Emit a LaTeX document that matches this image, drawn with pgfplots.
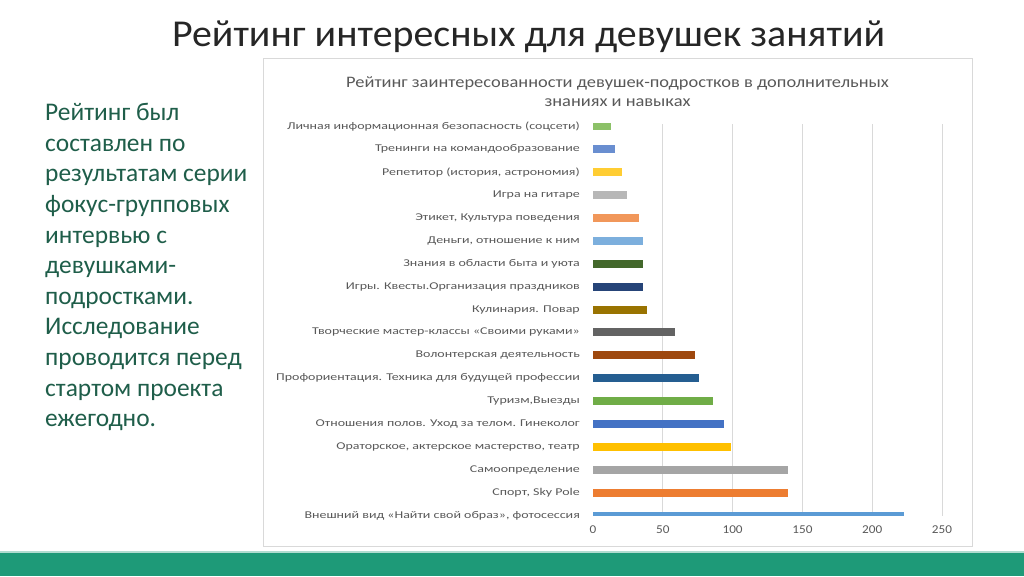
\documentclass[border=0pt]{standalone}
\usepackage{pgfplots}
\pgfplotsset{compat=1.18}
\usepackage{fontspec}
\setmainfont{Carlito}
\newfontfamily\slidetitlefont[FakeStretch=1.05]{Carlito}
\newfontfamily\chartfont[FakeStretch=1.34]{Carlito}
\newfontfamily\ctitlefont[FakeStretch=1.15]{Carlito}
\newfontfamily\tickfont[FakeStretch=1.1]{Carlito}

\definecolor{labgray}{HTML}{595959}
\definecolor{gridgray}{HTML}{D9D9D9}
\definecolor{slidegreen}{HTML}{1E9A78}
\definecolor{textgreen}{HTML}{1F5E4A}
\definecolor{c1}{HTML}{5B9BD5}
\definecolor{c2}{HTML}{ED7D31}
\definecolor{c3}{HTML}{A5A5A5}
\definecolor{c4}{HTML}{FFC000}
\definecolor{c5}{HTML}{4472C4}
\definecolor{c6}{HTML}{70AD47}
\definecolor{c7}{HTML}{255E91}
\definecolor{c8}{HTML}{9E480E}
\definecolor{c9}{HTML}{636363}
\definecolor{c10}{HTML}{997300}
\definecolor{c11}{HTML}{264478}
\definecolor{c12}{HTML}{43682B}
\definecolor{c13}{HTML}{7CAFDD}
\definecolor{c14}{HTML}{F1975A}
\definecolor{c15}{HTML}{B7B7B7}
\definecolor{c16}{HTML}{FFCD33}
\definecolor{c17}{HTML}{698ED0}
\definecolor{c18}{HTML}{8CC168}

\begin{document}
\begin{tikzpicture}
% slide background
\fill[white] (0pt,0pt) rectangle (1024pt,576pt);
\useasboundingbox (0pt,0pt) rectangle (1024pt,576pt);
\fill[slidegreen] (0pt,0pt) rectangle (1024pt,23pt);
\fill[slidegreen!35] (0pt,23pt) rectangle (1024pt,25pt);

% slide title
\node[anchor=base, font=\slidetitlefont\fontsize{38}{44}\selectfont, text=black!85] at (528.5pt,529pt)
  {Рейтинг интересных для девушек занятий};

% left text
\foreach \t [count=\i from 0] in {Рейтинг был, составлен по, результатам серии,
  фокус-групповых, интервью с, девушками-, подростками., Исследование,
  проводится перед, стартом проекта, ежегодно.}
  \node[anchor=base west, inner sep=0pt, font=\fontsize{25.4}{30}\selectfont, text=textgreen]
    at (45pt,455.3pt-\i*30.6pt) {\t};

% chart frame
\draw[gridgray, fill=white] (263.5pt,30pt) rectangle (972pt,518pt);
\node[anchor=base, font=\ctitlefont\fontsize{16}{19}\selectfont, text=labgray] at (617.5pt,488.3pt)
  {Рейтинг заинтересованности девушек-подростков в дополнительных};
\node[anchor=base, font=\ctitlefont\fontsize{16}{19}\selectfont, text=labgray] at (617.5pt,469.3pt)
  {знаниях и навыках};

\begin{axis}[
  at={(593pt,60.3pt)}, anchor=south west,
  scale only axis,
  width=349pt, height=391.7pt,
  xbar, bar width=8pt, bar shift=0pt,
  xmin=0, xmax=250, ymin=0, ymax=17.1,
  axis line style={draw=none},
  major tick length=0pt, minor tick length=0pt,
  xtick={0,50,...,250},
  minor xtick={50,100,...,250},
  xminorgrids=true,
  minor grid style={gridgray, line width=0.8pt},
  ytick={0,...,17},
  yticklabels={
    {Внешний вид «Найти свой образ», фотосессия},
    {Спорт, Sky Pole},
    {Самоопределение},
    {Ораторское, актерское мастерство, театр},
    {Отношения полов. Уход за телом. Гинеколог},
    {Туризм,Выезды},
    {Профориентация. Техника для будущей профессии},
    {Волонтерская деятельность},
    {Творческие мастер-классы «Своими руками»},
    {Кулинария. Повар},
    {Игры. Квесты.Организация  праздников},
    {Знания в области быта и уюта},
    {Деньги, отношение к ним},
    {Этикет, Культура поведения},
    {Игра на гитаре},
    {Репетитор (история, астрономия)},
    {Тренинги на командообразование},
    {Личная информационная безопасность (соцсети)}},
  yticklabel style={font=\chartfont\fontsize{10.4}{12}\selectfont, text=labgray,
    anchor=east, inner sep=0pt, xshift=-13pt},
  xticklabel style={font=\tickfont\fontsize{12}{14}\selectfont, text=labgray,
    anchor=north, inner sep=0pt, yshift=-10pt},
  /pgf/number format/assume math mode=true,
]
\addplot[fill=c1, draw=none] coordinates {(223,0)};
\addplot[fill=c2, draw=none] coordinates {(140,1)};
\addplot[fill=c3, draw=none] coordinates {(140,2)};
\addplot[fill=c4, draw=none] coordinates {(99,3)};
\addplot[fill=c5, draw=none] coordinates {(94,4)};
\addplot[fill=c6, draw=none] coordinates {(86,5)};
\addplot[fill=c7, draw=none] coordinates {(76,6)};
\addplot[fill=c8, draw=none] coordinates {(73,7)};
\addplot[fill=c9, draw=none] coordinates {(59,8)};
\addplot[fill=c10, draw=none] coordinates {(39,9)};
\addplot[fill=c11, draw=none] coordinates {(36,10)};
\addplot[fill=c12, draw=none] coordinates {(36,11)};
\addplot[fill=c13, draw=none] coordinates {(36,12)};
\addplot[fill=c14, draw=none] coordinates {(33,13)};
\addplot[fill=c15, draw=none] coordinates {(24,14)};
\addplot[fill=c16, draw=none] coordinates {(21,15)};
\addplot[fill=c17, draw=none] coordinates {(16,16)};
\addplot[fill=c18, draw=none] coordinates {(13,17)};
\end{axis}
\end{tikzpicture}
\end{document}
